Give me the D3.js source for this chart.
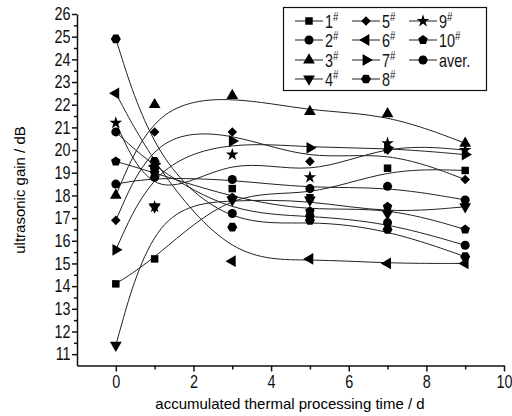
<!DOCTYPE html>
<html>
<head>
<meta charset="utf-8">
<script src="https://cdn.jsdelivr.net/npm/d3@7"></script>
<style>
  body { margin: 0; background: #fff; }
  .tick text, .leg text { font-family: 'Liberation Sans', Arial, sans-serif; }
  .title { font-family: 'Liberation Sans', Arial, sans-serif; font-size: 15px; }
</style>
</head>
<body>
<svg id="chart" width="512" height="416"></svg>
<script>
// values (x = days)
var days = [0, 1, 3, 5, 7, 9];
var s1 = [14.1, 15.2, 18.3, 17.9, 19.2, 19.1];
var s2 = [20.8, 19.2, 17.2, 17.1, 16.8, 15.8];
var s3 = [18.0, 22.0, 22.4, 21.7, 21.6, 20.3];
var s4 = [11.4, 17.5, 17.8, 17.8, 17.2, 17.5];
var s5 = [16.9, 20.8, 20.8, 19.5, 20.0, 18.7];
var s6 = [22.5, 19.3, 15.1, 15.2, 15.0, 15.0];
var s7 = [15.6, 19.4, 20.4, 20.1, 20.1, 19.8];
var s8 = [24.9, 19.5, 16.6, 16.9, 16.5, 15.3];
var s9 = [21.2, 17.5, 19.8, 18.8, 20.3, 20.0];
var s10 = [19.5, 19.0, 17.9, 17.3, 17.5, 16.5];
var aver = [18.5, 18.8, 18.7, 18.3, 18.4, 17.8];
var names = ['1', '2', '3', '4', '5', '6', '7', '8', '9', '10', 'aver.'];
var xTicks = [0, 2, 4, 6, 8, 10];
var yTicks = d3.range(11, 27);

var allSeries = [s1, s2, s3, s4, s5, s6, s7, s8, s9, s10, aver];

var svg = d3.select('#chart');

var x = d3.scaleLinear().domain([-1, 10]).range([77, 504]);
var y = d3.scaleLinear().domain([10.5, 26]).range([365.5, 14]);

// narrow look of the original font
var narrow = 'scale(0.8,1)';

// polygon path for hexagon / pentagon markers
function poly(n, r, rot) {
  var pts = d3.range(n).map(function (i) {
    var a = rot + i * 2 * Math.PI / n;
    return [r * Math.cos(a), r * Math.sin(a)];
  });
  return 'M' + pts.join('L') + 'Z';
}

// marker shape for each series: path + rotation
var shapes = [
  { p: d3.symbol(d3.symbolSquare, 56)(), r: 0 },
  { p: d3.symbol(d3.symbolCircle, 64)(), r: 0 },
  { p: d3.symbol(d3.symbolTriangle, 60)(), r: 0 },
  { p: d3.symbol(d3.symbolTriangle, 60)(), r: 180 },
  { p: d3.symbol(d3.symbolSquare, 46)(), r: 45 },
  { p: d3.symbol(d3.symbolTriangle, 60)(), r: -90 },
  { p: d3.symbol(d3.symbolTriangle, 60)(), r: 90 },
  { p: poly(6, 5, 0), r: 0 },
  { p: d3.symbol(d3.symbolStar, 50)(), r: 0 },
  { p: poly(5, 5, -Math.PI / 2), r: 0 },
  { p: d3.symbol(d3.symbolCircle, 64)(), r: 0 }
];

// axes
svg.append('g')
  .attr('transform', 'translate(77,0)')
  .call(d3.axisLeft(y).tickValues(yTicks).tickSize(5).tickSizeOuter(0).tickPadding(3).tickFormat(d3.format('d')));
svg.append('g')
  .attr('transform', 'translate(77,0)')
  .call(d3.axisLeft(y).tickValues(d3.range(11.5, 26, 1)).tickSize(3).tickFormat(''))
  .select('.domain').remove();

svg.append('g')
  .attr('transform', 'translate(0,365.5)')
  .call(d3.axisBottom(x).tickValues(xTicks).tickSize(6).tickSizeOuter(0).tickPadding(4));
svg.append('g')
  .attr('transform', 'translate(0,365.5)')
  .call(d3.axisBottom(x).tickValues([1, 3, 5, 7, 9]).tickSize(4).tickFormat(''))
  .select('.domain').remove();

svg.selectAll('.domain, .tick line').attr('stroke', '#111').attr('stroke-width', 1.5);
svg.selectAll('.tick text')
  .attr('font-size', 18)
  .attr('fill', '#111')
  .attr('transform', narrow);

// axis titles
svg.append('text').attr('class', 'title')
  .attr('transform', 'translate(25,190) rotate(-90)')
  .attr('text-anchor', 'middle')
  .text('ultrasonic gain / dB');
svg.append('text').attr('class', 'title')
  .attr('x', 290).attr('y', 409)
  .attr('text-anchor', 'middle')
  .text('accumulated thermal processing time / d');

// smooth B-spline lines
var line = d3.line()
  .x(function (d, i) { return x(days[i]); })
  .y(function (d) { return y(d); })
  .curve(d3.curveBasis);

svg.append('g').selectAll('path')
  .data(allSeries)
  .enter()
  .append('path')
  .attr('d', line)
  .attr('fill', 'none')
  .attr('stroke', '#222')
  .attr('stroke-width', 1);

// markers
allSeries.forEach(function (vals, k) {
  svg.append('g').selectAll('path')
    .data(vals)
    .enter()
    .append('path')
    .attr('d', shapes[k].p)
    .attr('transform', function (d, i) {
      return 'translate(' + x(days[i]) + ',' + y(d) + ') rotate(' + shapes[k].r + ')';
    })
    .attr('fill', '#000');
});

// legend
var leg = svg.append('g').attr('class', 'leg');
leg.append('rect')
  .attr('x', 283.5).attr('y', 7.5).attr('width', 203).attr('height', 83)
  .attr('fill', '#fff').attr('stroke', '#111').attr('stroke-width', 1.2);

var colX = [295, 352, 409];
var rowY = [21, 40, 60, 79];

names.forEach(function (nm, k) {
  var cx = colX[Math.floor(k / 4)];
  var cy = rowY[k % 4];
  var g = leg.append('g').attr('transform', 'translate(' + cx + ',' + cy + ')');
  g.append('line').attr('x1', 0).attr('x2', 28).attr('y1', 0).attr('y2', 0)
    .attr('stroke', '#222').attr('stroke-width', 1);
  g.append('path').attr('d', shapes[k].p)
    .attr('transform', 'translate(14,0) rotate(' + shapes[k].r + ')')
    .attr('fill', '#000');
  var t = g.append('text')
    .attr('transform', 'translate(30,7) ' + narrow)
    .attr('font-size', 18).attr('fill', '#111');
  t.append('tspan').text(nm);
  if (nm !== 'aver.') {
    t.append('tspan').attr('dy', -7).attr('font-size', 12).text('#');
  }
});
</script>
</body>
</html>
